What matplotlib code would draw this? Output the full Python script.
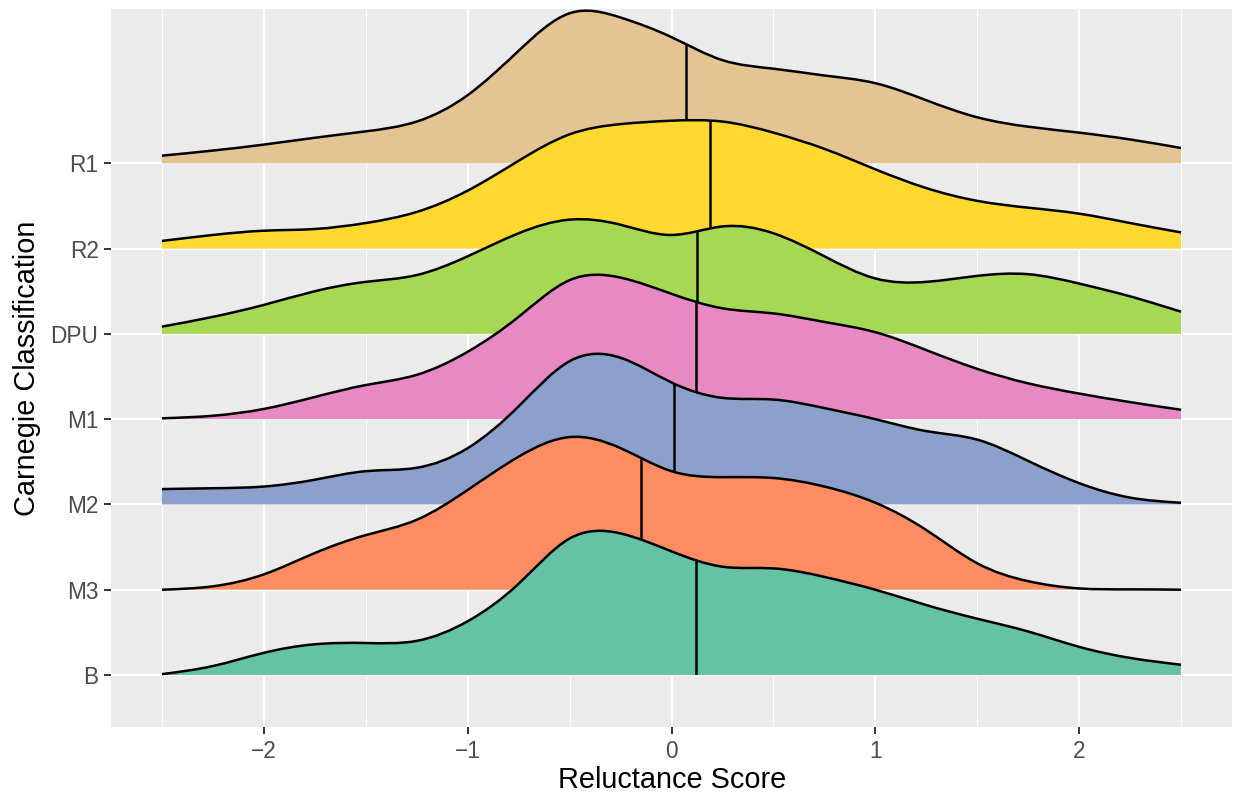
import numpy as np
import matplotlib
import matplotlib.pyplot as plt
from matplotlib.path import Path
from matplotlib.patches import PathPatch

plt.rcParams['font.family'] = ['Liberation Sans', 'DejaVu Sans']

# categories bottom -> top
categories = ['B', 'M3', 'M2', 'M1', 'DPU', 'R2', 'R1']
colors = ['#66C2A5', '#FC8D62', '#8DA0CB', '#E78AC3', '#A6D854', '#FFD92F', '#E5C494']

# scores where the ridge heights were read
scores = [-2.5, -2.25, -2.0, -1.75, -1.5, -1.25, -1.0, -0.75, -0.5, -0.25, 0.0,
          0.25, 0.5, 0.75, 1.0, 1.25, 1.5, 1.75, 2.0, 2.25, 2.5]

# scaled density heights (in units of ridge spacing)
dens_b = [0.01, 0.105, 0.26, 0.36, 0.375, 0.40, 0.63, 1.07, 1.60, 1.66, 1.45,
          1.27, 1.25, 1.15, 1.00, 0.82, 0.66, 0.51, 0.33, 0.20, 0.12]
dens_m3 = [0.0, 0.04, 0.18, 0.43, 0.64, 0.82, 1.17, 1.56, 1.79, 1.66, 1.39,
           1.32, 1.31, 1.21, 1.02, 0.70, 0.31, 0.10, 0.015, 0.004, 0.0]
dens_m2 = [0.18, 0.19, 0.21, 0.29, 0.39, 0.43, 0.66, 1.15, 1.68, 1.72, 1.43,
           1.25, 1.23, 1.13, 1.00, 0.86, 0.76, 0.51, 0.25, 0.08, 0.02]
dens_m1 = [0.01, 0.04, 0.12, 0.26, 0.40, 0.52, 0.79, 1.20, 1.63, 1.66, 1.47,
           1.30, 1.24, 1.14, 1.02, 0.81, 0.59, 0.42, 0.30, 0.20, 0.11]
dens_dpu = [0.085, 0.20, 0.34, 0.50, 0.61, 0.69, 0.91, 1.18, 1.34, 1.28, 1.16,
            1.26, 1.18, 0.91, 0.65, 0.61, 0.68, 0.70, 0.59, 0.44, 0.26]
dens_r2 = [0.09, 0.16, 0.21, 0.23, 0.30, 0.43, 0.68, 1.03, 1.34, 1.46, 1.50,
           1.49, 1.36, 1.17, 0.93, 0.71, 0.56, 0.48, 0.41, 0.30, 0.19]
dens_r1 = [0.09, 0.15, 0.22, 0.30, 0.375, 0.49, 0.80, 1.32, 1.76, 1.71, 1.48,
           1.21, 1.11, 1.03, 0.94, 0.74, 0.54, 0.43, 0.36, 0.28, 0.18]

medians = [0.12, -0.15, 0.01, 0.12, 0.125, 0.19, 0.07]

densities = [dens_b, dens_m3, dens_m2, dens_m1, dens_dpu, dens_r2, dens_r1]


def spline_pieces(xs, ys):
    # natural cubic spline through the points, handed to matplotlib as bezier segments
    n = len(xs)
    h = xs[1] - xs[0]
    A = np.zeros((n, n))
    rhs = np.zeros(n)
    A[0, 0] = A[-1, -1] = 1
    for i in range(1, n - 1):
        A[i, i - 1] = A[i, i + 1] = h / 6
        A[i, i] = 4 * h / 6
        rhs[i] = (ys[i + 1] - 2 * ys[i] + ys[i - 1]) / h
    M = np.linalg.solve(A, rhs)
    d = np.zeros(n)
    for i in range(n - 1):
        d[i] = (ys[i + 1] - ys[i]) / h - h * (2 * M[i] + M[i + 1]) / 6
    d[-1] = (ys[-1] - ys[-2]) / h + h * (M[-2] + 2 * M[-1]) / 6
    verts, codes = [], []
    for i in range(n - 1):
        verts += [(xs[i] + h / 3, ys[i] + d[i] * h / 3),
                  (xs[i + 1] - h / 3, ys[i + 1] - d[i + 1] * h / 3),
                  (xs[i + 1], ys[i + 1])]
        codes += [Path.CURVE4] * 3
    return verts, codes


fig = plt.figure(figsize=(12.36, 7.95), dpi=100)
ax = fig.add_axes([111 / 1236, 68 / 795, 1121 / 1236, 718 / 795])
ax.set_facecolor('#EBEBEB')
for s in ax.spines.values():
    s.set_visible(False)

ax.set_xlim(-2.75, 2.75)
ax.set_ylim(0.39, 8.81)

for v in [-2.5, -1.5, -0.5, 0.5, 1.5, 2.5]:
    ax.axvline(v, color='white', lw=0.8, zorder=0)
for v in [-2, -1, 0, 1, 2]:
    ax.axvline(v, color='white', lw=1.6, zorder=0)
for k in range(len(categories)):
    ax.axhline(k + 1, color='white', lw=1.6, zorder=0)

# draw top ridge first so lower ridges overlap it
for k in range(len(categories) - 1, -1, -1):
    base = k + 1
    xs = np.array(scores)
    ys = base + np.array(densities[k])
    cv, cc = spline_pieces(xs, ys)
    z = 10 + (len(categories) - k) * 3

    fverts = [(xs[0], base), (xs[0], ys[0])] + cv + [(xs[-1], base), (xs[0], base)]
    fcodes = [Path.MOVETO, Path.LINETO] + cc + [Path.LINETO, Path.CLOSEPOLY]
    patch = PathPatch(Path(fverts, fcodes), facecolor=colors[k], edgecolor='none', zorder=z)
    ax.add_patch(patch)

    line = PathPatch(Path([(xs[0], ys[0])] + cv, [Path.MOVETO] + cc),
                     facecolor='none', edgecolor='black', lw=1.8, zorder=z + 1)
    ax.add_patch(line)

    med, = ax.plot([medians[k], medians[k]], [base, base + 3], color='black', lw=1.8,
                   zorder=z + 1, solid_capstyle='butt')
    med.set_clip_path(patch)

ax.set_xticks([-2, -1, 0, 1, 2])
ax.set_xticklabels(['\u22122', '\u22121', '0', '1', '2'])
ax.set_yticks(range(1, len(categories) + 1))
ax.set_yticklabels(categories)
ax.tick_params(length=5, width=1.4, color='#333333', labelcolor='#4D4D4D',
               labelsize=16.3, pad=4)

fig.text(672 / 1236, 1 - 780 / 795, 'Reluctance Score', fontsize=20.8,
         ha='center', va='center', color='black')
fig.text(27 / 1236, 1 - 368 / 795, 'Carnegie Classification', fontsize=20.8,
         ha='center', va='center', rotation=90, color='black')

fig.savefig('out.png', dpi=100)
